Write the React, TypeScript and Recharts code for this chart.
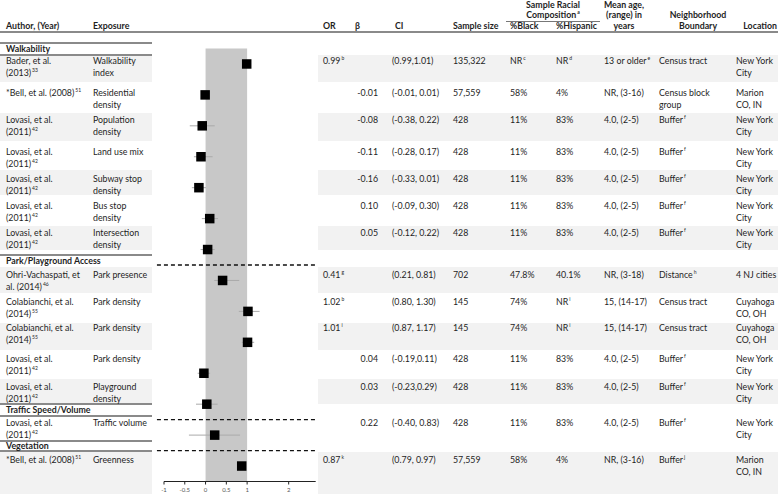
import React from "react";
import { ScatterChart, Scatter, XAxis, YAxis, ErrorBar, ReferenceArea, ReferenceLine } from "recharts";

// table columns, one entry per study row
const authors = [
  "Bader, et al.\n(2013)", "*Bell, et al. (2008)", "Lovasi, et al.\n(2011)", "Lovasi, et al.\n(2011)",
  "Lovasi, et al.\n(2011)", "Lovasi, et al.\n(2011)", "Lovasi, et al.\n(2011)", "Ohri-Vachaspati, et\nal. (2014)",
  "Colabianchi, et al.\n(2014)", "Colabianchi, et al.\n(2014)", "Lovasi, et al.\n(2011)", "Lovasi, et al.\n(2011)",
  "Lovasi, et al.\n(2011)", "*Bell, et al. (2008)",
];
const authorRefs = ["33", "51", "42", "42", "42", "42", "42", "46", "55", "55", "42", "42", "42", "51"];
const exposures = [
  "Walkability\nindex", "Residential\ndensity", "Population\ndensity", "Land use mix", "Subway stop\ndensity",
  "Bus stop\ndensity", "Intersection\ndensity", "Park presence", "Park density", "Park density", "Park density",
  "Playground\ndensity", "Traffic volume", "Greenness",
];
const orValues = ["0.99", "", "", "", "", "", "", "0.41", "1.02", "1.01", "", "", "", "0.87"];
const orNotes = ["b", "", "", "", "", "", "", "g", "b", "i", "", "", "", "k"];
const betaValues = ["", "-0.01", "-0.08", "-0.11", "-0.16", "0.10", "0.05", "", "", "", "0.04", "0.03", "0.22", ""];
const ciLabels = [
  "(0.99,1.01)", "(-0.01, 0.01)", "(-0.38, 0.22)", "(-0.28, 0.17)", "(-0.33, 0.01)", "(-0.09, 0.30)",
  "(-0.12, 0.22)", "(0.21, 0.81)", "(0.80, 1.30)", "(0.87, 1.17)", "(-0.19,0.11)", "(-0.23,0.29)",
  "(-0.40, 0.83)", "(0.79, 0.97)",
];
const sampleSizes = ["135,322", "57,559", "428", "428", "428", "428", "428", "702", "145", "145", "428", "428", "428", "57,559"];
const pctBlack = ["NR", "58%", "11%", "11%", "11%", "11%", "11%", "47.8%", "74%", "74%", "11%", "11%", "11%", "58%"];
const pctBlackNotes = ["c", "", "", "", "", "", "", "", "", "", "", "", "", ""];
const pctHispanic = ["NR", "4%", "83%", "83%", "83%", "83%", "83%", "40.1%", "NR", "NR", "83%", "83%", "83%", "4%"];
const pctHispanicNotes = ["d", "", "", "", "", "", "", "", "i", "i", "", "", "", ""];
const ages = [
  "13 or older", "NR, (3-16)", "4.0, (2-5)", "4.0, (2-5)", "4.0, (2-5)", "4.0, (2-5)", "4.0, (2-5)",
  "NR, (3-18)", "15, (14-17)", "15, (14-17)", "4.0, (2-5)", "4.0, (2-5)", "4.0, (2-5)", "NR, (3-16)",
];
const ageNotes = ["e", "", "", "", "", "", "", "", "", "", "", "", "", ""];
const boundaries = [
  "Census tract", "Census block\ngroup", "Buffer", "Buffer", "Buffer", "Buffer", "Buffer", "Distance",
  "Census tract", "Census tract", "Buffer", "Buffer", "Buffer", "Buffer",
];
const boundaryNotes = ["", "", "f", "f", "f", "f", "f", "h", "", "", "f", "f", "f", "j"];
const locations = [
  "New York\nCity", "Marion\nCO, IN", "New York\nCity", "New York\nCity", "New York\nCity", "New York\nCity",
  "New York\nCity", "4 NJ cities", "Cuyahoga\nCO, OH", "Cuyahoga\nCO, OH", "New York\nCity", "New York\nCity",
  "New York\nCity", "Marion\nCO, IN",
];

// plotted estimates and confidence limits
const estimates = [0.99, -0.01, -0.08, -0.11, -0.16, 0.1, 0.05, 0.41, 1.02, 1.01, -0.04, 0.03, 0.22, 0.87];
const ciLow = [0.99, -0.01, -0.38, -0.28, -0.33, -0.09, -0.12, 0.21, 0.8, 0.87, -0.19, -0.23, -0.4, 0.79];
const ciHigh = [1.01, 0.01, 0.22, 0.17, 0.01, 0.3, 0.22, 0.81, 1.3, 1.17, 0.11, 0.29, 0.83, 0.97];
const xTicks = [-1, -0.5, 0, 0.5, 1, 2];

const sections = ["Walkability", "Park/Playground Access", "Traffic Speed/Volume", "Vegetation"];
const sectionBreaks = [6.5, 11.5, 12.5]; // dashed separators between rows in the plot

// layout only
const rowTextY = [61, 93, 120, 152, 179, 206, 233, 275, 302, 328, 359, 387, 423, 460];
const shadeBands: Record<number, [number, number]> = {
  0: [55, 82], 2: [113, 141], 4: [170, 195], 6: [226, 250], 7: [267, 293],
  9: [323, 350], 11: [379, 404], 13: [452, 494],
};
const sectionLayout = [
  { y: 49, above: 43, below: 55 },
  { y: 261, above: 255, below: null },
  { y: 410, above: 404, below: 416 },
  { y: 446, above: 441, below: 451 },
];

const plotData = estimates.map((v, i) => ({
  x: v,
  y: i,
  err: [v - ciLow[i], ciHigh[i] - v],
}));

const FONT = "Lato, 'Open Sans', sans-serif";
const TEXT = "#1e1e1e";

function Txt({ x, y, text, note, bold, align = "left", w = 84 }: {
  x: number; y: number; text: string; note?: string; bold?: boolean; align?: "left" | "right" | "center"; w?: number;
}) {
  const left = align === "left" ? x : align === "right" ? x - w : x - w / 2;
  const lines = text.split("\n");
  return (
    <div
      style={{
        position: "absolute", left, top: y - 6, width: w, textAlign: align, whiteSpace: "pre",
        fontSize: 8.8, lineHeight: "11.5px", fontWeight: bold ? 700 : 400, color: TEXT,
      }}
    >
      {lines.map((ln, k) => (
        <div key={k}>
          <span>{ln}</span>
          {note && k === lines.length - 1 ? (
            <span style={{ display: "inline-block", fontSize: 5, lineHeight: "5px", verticalAlign: "top", marginTop: 1, marginLeft: 1 }}>
              {note}
            </span>
          ) : null}
        </div>
      ))}
    </div>
  );
}

function HLine({ x1, x2, y, color = "#8a8a8a", h = 1.5 }: { x1: number; x2: number; y: number; color?: string; h?: number }) {
  return <div style={{ position: "absolute", left: x1, top: y - h / 2, width: x2 - x1, height: h, background: color }} />;
}

const Square = (props: any) => {
  const { cx, cy } = props;
  return <rect x={cx - 4.75} y={cy - 4.75} width={9.5} height={9.5} fill="#000" />;
};

export default function App() {
  return (
    <div style={{ position: "absolute", left: 0, top: 0, width: 778, height: 498, background: "#fff", fontFamily: FONT, overflow: "hidden" }}>
      {/* row shading */}
      {Object.entries(shadeBands).map(([k, [t, b]]) => (
        <React.Fragment key={k}>
          <div style={{ position: "absolute", left: 0, top: t, width: 152, height: b - t, background: "#f2f2f2" }} />
          <div style={{ position: "absolute", left: 318, top: t, width: 460, height: b - t, background: "#f2f2f2" }} />
        </React.Fragment>
      ))}

      {/* header */}
      <Txt x={6} y={26} text="Author, (Year)" bold />
      <Txt x={93} y={26} text="Exposure" bold />
      <Txt x={323} y={26} text="OR" bold w={20} />
      <Txt x={355} y={26} text="β" bold w={20} />
      <Txt x={395} y={26} text="CI" bold w={20} />
      <Txt x={453} y={26} text="Sample size" bold w={54} />
      <Txt x={553} y={5} text="Sample Racial" bold align="center" w={90} />
      <Txt x={553} y={15} text="Composition" note="a" bold align="center" w={90} />
      <HLine x1={506} x2={600} y={21} h={1} color="#777" />
      <Txt x={510} y={26} text="%Black" bold w={40} />
      <Txt x={556} y={26} text="%Hispanic" bold w={45} />
      <Txt x={624} y={5} text="Mean age," bold align="center" w={60} />
      <Txt x={624} y={15} text="(range) in" bold align="center" w={60} />
      <Txt x={624} y={26} text="years" bold align="center" w={60} />
      <Txt x={698} y={15} text="Neighborhood" bold align="center" w={74} />
      <Txt x={698} y={26} text="Boundary" bold align="center" w={74} />
      <Txt x={777} y={26} text="Location" bold align="right" w={40} />
      <HLine x1={0} x2={778} y={32} />

      {/* section headers */}
      {sections.map((s, i) => (
        <React.Fragment key={s}>
          <HLine x1={0} x2={152} y={sectionLayout[i].above} />
          {sectionLayout[i].below !== null && <HLine x1={0} x2={152} y={sectionLayout[i].below as number} />}
          <Txt x={6} y={sectionLayout[i].y} text={s} bold w={140} />
        </React.Fragment>
      ))}

      {/* table body */}
      {authors.map((a, i) => {
        const y = rowTextY[i];
        return (
          <React.Fragment key={i}>
            <Txt x={6} y={y} text={a} note={authorRefs[i]} />
            <Txt x={93} y={y} text={exposures[i]} w={60} />
            <Txt x={323} y={y} text={orValues[i]} note={orNotes[i]} w={28} />
            <Txt x={378} y={y} text={betaValues[i]} align="right" w={26} />
            <Txt x={392} y={y} text={ciLabels[i]} w={58} />
            <Txt x={453} y={y} text={sampleSizes[i]} w={50} />
            <Txt x={510} y={y} text={pctBlack[i]} note={pctBlackNotes[i]} w={40} />
            <Txt x={556} y={y} text={pctHispanic[i]} note={pctHispanicNotes[i]} w={45} />
            <Txt x={604} y={y} text={ages[i]} note={ageNotes[i]} w={54} />
            <Txt x={659} y={y} text={boundaries[i]} note={boundaryNotes[i]} w={74} />
            <Txt x={736} y={y} text={locations[i]} w={42} />
          </React.Fragment>
        );
      })}

      {/* forest plot */}
      <div style={{ position: "absolute", left: 0, top: 0 }}>
        <ScatterChart width={778} height={498} margin={{ top: 48.5, right: 462.3, bottom: 0.5, left: 164 }}>
          <ReferenceArea x1={0} x2={1} y1={-0.5} y2={13.5} fill="#c8c8c8" fillOpacity={1} stroke="none" />
          {sectionBreaks.map((b) => (
            <ReferenceLine
              key={b}
              segment={[{ x: -1.17, y: b }, { x: 2.65, y: b }]}
              ifOverflow="visible"
              stroke="#111"
              strokeWidth={1.3}
              strokeDasharray="4 3"
            />
          ))}
          <XAxis
            type="number"
            dataKey="x"
            domain={[-1, 2.65]}
            ticks={xTicks}
            allowDataOverflow
            height={16}
            tickSize={3}
            tickMargin={3}
            axisLine={{ stroke: "#222" }}
            tickLine={{ stroke: "#222" }}
            tick={{ fontSize: 6, fill: "#555", fontFamily: FONT }}
          />
          <YAxis type="number" dataKey="y" domain={[-0.5, 13.5]} reversed hide />
          <Scatter data={plotData} shape={Square} isAnimationActive={false}>
            <ErrorBar dataKey="err" direction="x" width={0} stroke="#aaa" strokeWidth={1} />
          </Scatter>
        </ScatterChart>
      </div>
    </div>
  );
}
